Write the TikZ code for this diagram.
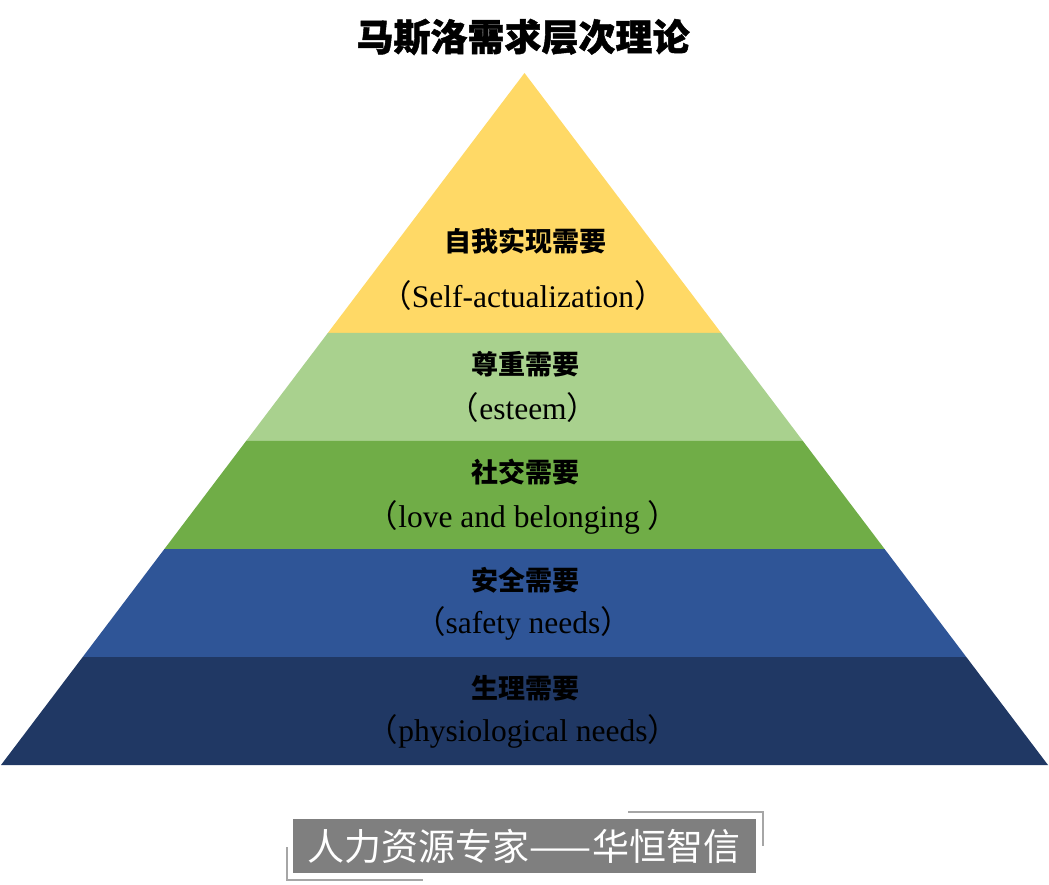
\documentclass[tikz,border=0pt]{standalone}
\usepackage{fontspec}
\setmainfont{Liberation Serif}
\newfontfamily\cjk{Noto Sans CJK SC}
\newfontfamily\cjkt{Noto Sans CJK SC}[BoldFeatures={FakeBold=1.2}]
\usetikzlibrary{calc}
\definecolor{cYellow}{HTML}{FFD966}
\definecolor{cLGreen}{HTML}{A9D18E}
\definecolor{cGreen}{HTML}{70AD47}
\definecolor{cBlue}{HTML}{2F5597}
\definecolor{cNavy}{HTML}{203864}
\definecolor{cMark}{HTML}{7F7F7F}
\definecolor{cBrk}{HTML}{A6A6A6}
\newcommand{\lp}{{\cjk （}}
\newcommand{\rp}{{\cjk ）}}
\tikzset{
  zh/.style={font=\cjk\bfseries\fontsize{27}{32}\selectfont, text=black, inner sep=0pt},
  en/.style={font=\fontsize{31.5}{36}\selectfont, text=black, inner sep=0pt},
  brk/.style={draw=cBrk, line width=1.2pt},
}
\begin{document}
\begin{tikzpicture}[x=1pt,y=-1pt]
\useasboundingbox (0,0) rectangle (1049,885);
\coordinate (apex) at (524.5,73);
\coordinate (bl) at (1,765);
\coordinate (br) at (1048,765);
% layer boundaries: t = (y-73)/692
\foreach \n/\t in {a/0.37572,b/0.53179,c/0.68786,d/0.84393}{
  \coordinate (L\n) at ($(apex)!\t!(bl)$);
  \coordinate (R\n) at ($(apex)!\t!(br)$);
}
\fill[cYellow] (apex) -- (Ra) -- (La) -- cycle;
\fill[cLGreen] (La) -- (Ra) -- (Rb) -- (Lb) -- cycle;
\fill[cGreen] (Lb) -- (Rb) -- (Rc) -- (Lc) -- cycle;
\fill[cBlue] (Lc) -- (Rc) -- (Rd) -- (Ld) -- cycle;
\fill[cNavy] (Ld) -- (Rd) -- (br) -- (bl) -- cycle;

% title
\node[font=\cjkt\bfseries\fontsize{37}{42}\selectfont, inner sep=0pt] (title) at (523,37) {马斯洛需求层次理论};

% labels
\node[zh] (z1) at (525,241) {自我实现需要};
\node[en] (e1) at (523,296) {\lp Self-actualization\rp};
\node[zh] (z2) at (525,364) {尊重需要};
\node[en] (e2) at (523,408) {\lp esteem\rp};
\node[zh] (z3) at (525,472) {社交需要};
\node[en] (e3) at (523,517) {\lp love and belonging \rp};
\node[zh] (z4) at (525,580) {安全需要};
\node[en] (e4) at (523,623) {\lp safety needs\rp};
\node[zh] (z5) at (525,688) {生理需要};
\node[en] (e5) at (523,731) {\lp physiological needs\rp};

% watermark
\fill[cMark] (293,819) rectangle (756,873);
\node[font=\cjk\fontsize{37}{42}\selectfont, text=white, inner sep=0pt] (mark) at (524,846) {人力资源专家——华恒智信};
\coordinate (b1a) at (628,812);
\coordinate (b1b) at (763,812);
\coordinate (b1c) at (763,846);
\draw[brk] (b1a) -- (b1b) -- (b1c);
\coordinate (b2a) at (287,847);
\coordinate (b2b) at (287,880);
\coordinate (b2c) at (423,880);
\draw[brk] (b2a) -- (b2b) -- (b2c);
\end{tikzpicture}
\end{document}
